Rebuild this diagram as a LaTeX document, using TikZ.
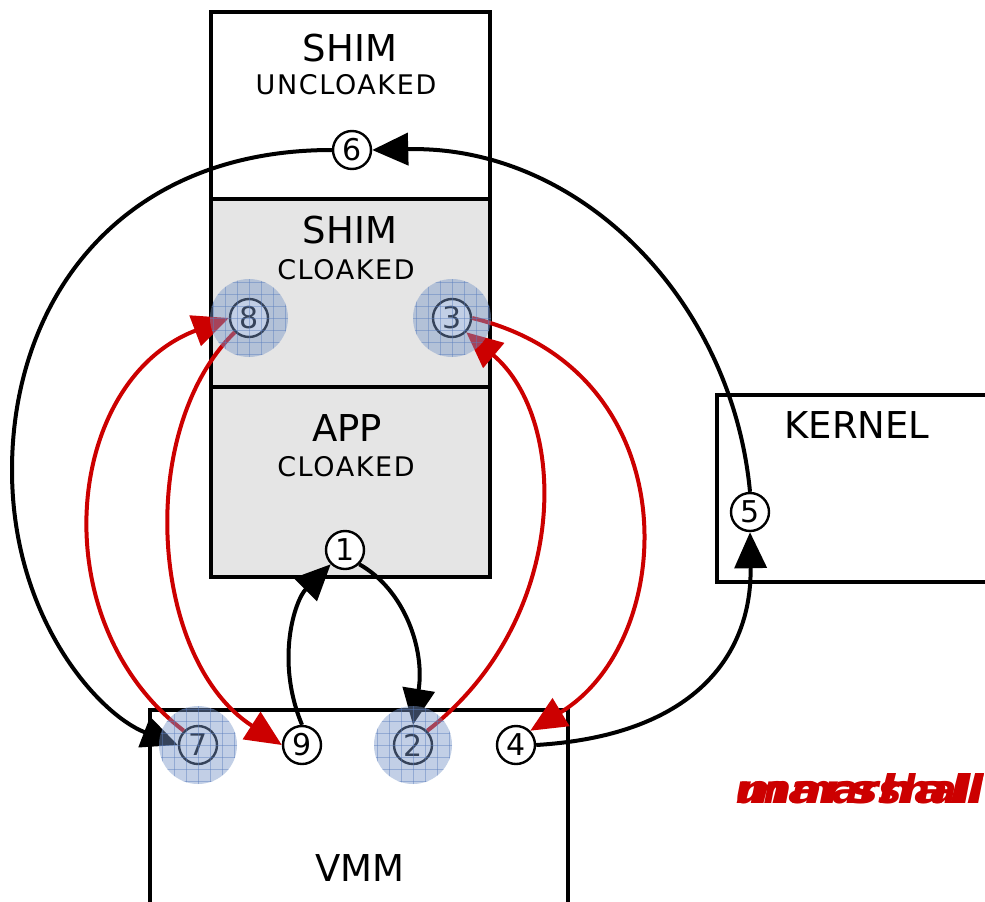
\documentclass[tikz,border=0pt]{standalone}
\usepackage{fontspec}
\setmainfont{DejaVu Sans}
\usetikzlibrary{arrows.meta,calc}
\definecolor{boxgray}{HTML}{E5E5E5}
\definecolor{redc}{HTML}{CC0000}
\definecolor{hlblue}{RGB}{120,150,200}
\definecolor{gridblue}{RGB}{90,125,190}
\tikzset{
  box/.style={draw=black, line width=3.8pt},
  num/.style={circle, draw=black, fill=white, line width=2.4pt, minimum size=38pt, inner sep=0pt, font=\fontsize{30}{30}\selectfont},
  blk/.style={draw=black, line width=4pt, -{Triangle[length=36pt,width=32pt]}},
  redarr/.style={draw=redc, line width=4pt, -{Triangle[length=36pt,width=32pt]}},
  bigtxt/.style={font=\fontsize{37}{40}\selectfont, inner sep=0pt},
  smtxt/.style={font=\fontsize{27}{30}\selectfont\addfontfeature{LetterSpace=6}, inner sep=0pt},
  redtxt/.style={anchor=base west, inner sep=0pt, text=redc, font=\fontsize{39.5}{40}\selectfont\bfseries\itshape},
}
\newcommand{\hlcirc}[1]{%
  \begin{scope}
    \fill[hlblue, opacity=0.45] (#1) circle (39);
    \clip (#1) circle (39);
    \foreach \d in {-48,-36,...,48} {
      \draw[gridblue, line width=0.6pt, opacity=0.45] ($(#1)+(\d,-48)$) -- ($(#1)+(\d,48)$);
      \draw[gridblue, line width=0.6pt, opacity=0.45] ($(#1)+(-48,\d)$) -- ($(#1)+(48,\d)$);
    }
  \end{scope}}
\begin{document}
\begin{tikzpicture}[x=1pt,y=-1pt]
\useasboundingbox (0,0) rectangle (985,902);
% boxes
\draw[box, fill=white] (211,12) rectangle (490,199);
\draw[box, fill=boxgray] (211,199) rectangle (490,387);
\draw[box, fill=boxgray] (211,387) rectangle (490,577);
\draw[box, fill=white] (717,395) rectangle (1000,582);
\draw[box, fill=white] (150,710) rectangle (568,920);
% texts
\node[bigtxt] (t1) at (350,48) {SHIM};
\node[smtxt] (t2) at (346,85) {UNCLOAKED};
\node[bigtxt] (t3) at (350,230) {SHIM};
\node[smtxt] (t4) at (346,270) {CLOAKED};
\node[bigtxt] (t5) at (347,428) {APP};
\node[smtxt] (t6) at (346,467) {CLOAKED};
\node[bigtxt] (t7) at (857,425) {KERNEL};
\node[bigtxt] (t8) at (360,868) {VMM};
% number nodes
\node[num] (n1) at (345,550) {1};
\node[num] (n2) at (413,745) {2};
\node[num] (n3) at (452,318) {3};
\node[num] (n4) at (516,745) {4};
\node[num] (n5) at (750,512) {5};
\node[num] (n6) at (352,150) {6};
\node[num] (n7) at (198,745) {7};
\node[num] (n8) at (249,318) {8};
\node[num] (n9) at (302,745) {9};
% black connectors
\draw[blk] (n5.north) .. controls (732,300) and (580,145) .. (n6.east);
\draw[blk] (n6.west) .. controls (120,150) and (12,300) .. (12,470) .. controls (12,620) and (100,715) .. (n7.west);
\draw[blk] (n9.north) .. controls (275,660) and (295,600) .. (n1.south west);
\draw[blk] (n1.south east) .. controls (405,590) and (425,650) .. (n2.north);
\draw[blk] (n4.east) .. controls (700,735) and (752,650) .. (n5.south);
% red connectors
\draw[redarr] (n2.north east) .. controls (570,620) and (570,420) .. (n3.south east);
\draw[redarr] (n3.east) .. controls (690,370) and (680,640) .. (n4.north east);
\draw[redarr] (n7.north west) .. controls (40,620) and (65,380) .. (n8.west);
\draw[redarr] (n8.south west) .. controls (135,430) and (150,660) .. (n9.west);
% highlights
\hlcirc{n2}
\hlcirc{n3}
\hlcirc{n7}
\hlcirc{n8}
% red overlapping labels (drawn on top of each other, as in the reference)
\node[redtxt] (m1) at (735,803) {unmarshall};
\node[redtxt] (m2) at (735,803) {\resizebox{249pt}{30pt}{marshall}};
\end{tikzpicture}
\end{document}
